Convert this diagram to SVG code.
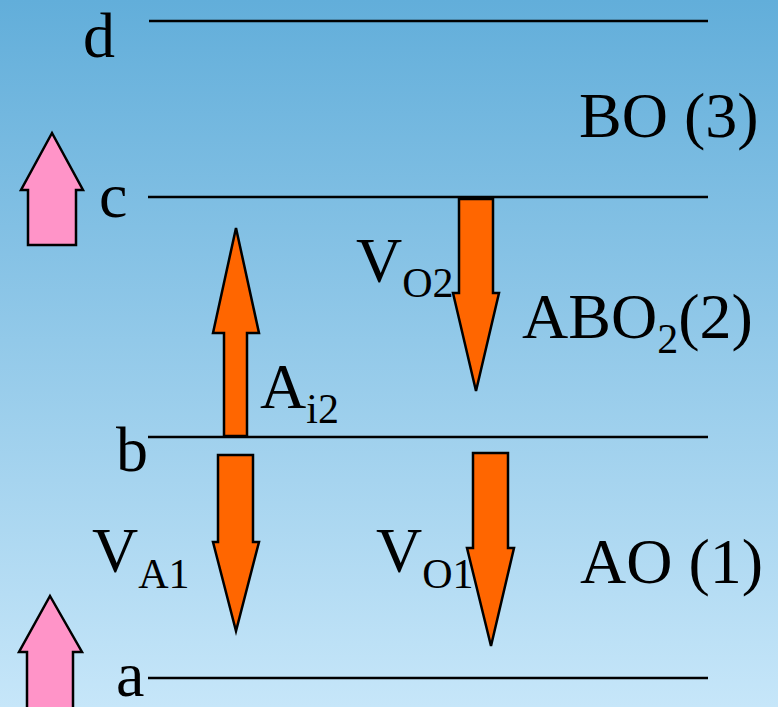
<svg xmlns="http://www.w3.org/2000/svg" width="778" height="707" viewBox="0 0 778 707">
  <defs>
    <linearGradient id="bg" x1="0" y1="0" x2="0" y2="1">
      <stop offset="0" stop-color="#62aeda"/>
      <stop offset="1" stop-color="#c6e6f9"/>
    </linearGradient>
    <style>
      .t { font-family: "Liberation Serif", "Times New Roman", serif; font-size: 64px; fill: #000; }
      .sub { font-size: 42px; }
      .lvl { stroke: #000; stroke-width: 2.5; fill: none; }
      .orange { fill: #ff6600; stroke: #000; stroke-width: 2.5; stroke-linejoin: miter; }
      .pink { fill: #ff94c8; stroke: #000; stroke-width: 2.5; stroke-linejoin: miter; }
    </style>
  </defs>
  <rect x="0" y="0" width="778" height="707" fill="url(#bg)"/>

  <g id="level-d">
    <line class="lvl" x1="149" y1="21" x2="708" y2="21"/>
    <text class="t" x="83" y="57">d</text>
  </g>
  <g id="level-c">
    <line class="lvl" x1="148" y1="197" x2="708" y2="197"/>
    <text class="t" x="99" y="217">c</text>
  </g>
  <g id="level-b">
    <line class="lvl" x1="148" y1="437" x2="708" y2="437"/>
    <text class="t" x="116" y="471">b</text>
  </g>
  <g id="level-a">
    <line class="lvl" x1="148" y1="678" x2="708" y2="678"/>
    <text class="t" x="116" y="696">a</text>
  </g>

  <g id="phase-BO">
    <text class="t" x="579" y="137">BO (3)</text>
  </g>
  <g id="phase-ABO2">
    <text class="t" x="522" y="338">ABO<tspan class="sub" dy="15">2</tspan><tspan dy="-15">(2)</tspan></text>
  </g>
  <g id="phase-AO">
    <text class="t" x="580" y="583">AO (1)</text>
  </g>

  <g id="pink-arrows">
    <polygon class="pink" points="52,133 83,190 76,190 76,245 28,245 28,190 21,190"/>
    <polygon class="pink" points="50,596 82,652 73,652 73,712 27,712 27,652 19,652"/>
  </g>

  <g id="connectors">
    <g id="arrow-Ai2">
      <polygon class="orange" points="236,228 259,333 247,333 247,436 224,436 224,333 213,333"/>
      <text class="t" x="260" y="408">A<tspan class="sub" dy="15">i2</tspan></text>
    </g>
    <g id="arrow-VO2">
      <polygon class="orange" points="459,199 493,199 493,293 499,293 476,391 453,293 459,293"/>
      <text class="t" x="356" y="282">V<tspan class="sub" dy="15">O2</tspan></text>
    </g>
    <g id="arrow-VA1">
      <polygon class="orange" points="218,455 253,455 253,542 259,542 236,631 213,542 218,542"/>
      <text class="t" x="92" y="572">V<tspan class="sub" dy="16">A1</tspan></text>
    </g>
    <g id="arrow-VO1">
      <polygon class="orange" points="473,453 508,453 508,548 514,548 491,646 467,548 473,548"/>
      <text class="t" x="376" y="572">V<tspan class="sub" dy="16">O1</tspan></text>
    </g>
  </g>
</svg>
